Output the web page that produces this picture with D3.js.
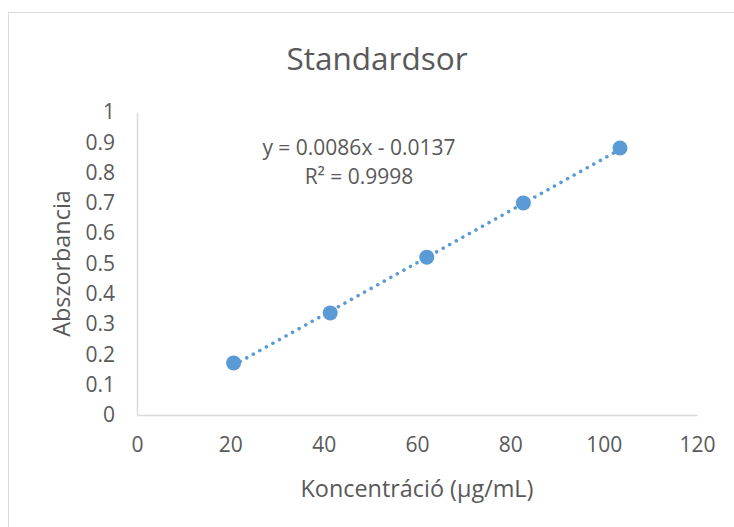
<!DOCTYPE html>
<html>
<head>
<meta charset="utf-8">
<script src="https://cdn.jsdelivr.net/npm/d3@7"></script>
<style>
  body { margin: 0; background: #fff; }
  text { font-family: "Open Sans", sans-serif; fill: #595959; }
</style>
</head>
<body>
<script>
// data
var concentrations = [20.7, 41.4, 62.1, 82.8, 103.5];
var absorbances = [0.172, 0.337, 0.521, 0.700, 0.881];
var xTicks = [0, 20, 40, 60, 80, 100, 120];
var yTicks = [0, 0.1, 0.2, 0.3, 0.4, 0.5, 0.6, 0.7, 0.8, 0.9, 1];
var slope = 0.0086, intercept = -0.0137;
var equationLines = ["y = 0.0086x - 0.0137", "R² = 0.9998"];

var W = 734, H = 527;
var plotL = 137, plotR = 697, plotT = 112, plotB = 415;
var blue = "#5B9BD5";

var svg = d3.select("body").append("svg")
    .attr("width", W)
    .attr("height", H);

// chart border
svg.append("rect")
    .attr("x", 8.5).attr("y", 12.5)
    .attr("width", W).attr("height", H)
    .attr("fill", "#fff")
    .attr("stroke", "#D9D9D9");

var x = d3.scaleLinear().domain([0, 120]).range([plotL, plotR]);
var y = d3.scaleLinear().domain([0, 1]).range([plotB, plotT]);

var xAxis = svg.append("g")
    .attr("transform", "translate(0," + plotB + ")")
    .call(d3.axisBottom(x).tickValues(xTicks).tickSize(0).tickPadding(22));
var yAxis = svg.append("g")
    .attr("transform", "translate(" + plotL + ",0)")
    .call(d3.axisLeft(y).tickValues(yTicks).tickSize(0).tickPadding(22)
        .tickFormat(d => d3.format("~g")(d)));

[xAxis, yAxis].forEach(function(g) {
    g.select(".domain").attr("stroke", "#D9D9D9").attr("stroke-width", 1.5);
    g.selectAll("text")
        .attr("font-family", "Open Sans")
        .attr("font-size", 21)
        .attr("fill", "#595959");
});

// trendline from first to last point
var x0 = d3.min(concentrations), x1 = d3.max(concentrations);
svg.append("line")
    .attr("x1", x(x0)).attr("y1", y(slope * x0 + intercept))
    .attr("x2", x(x1)).attr("y2", y(slope * x1 + intercept))
    .attr("stroke", blue)
    .attr("stroke-width", 3.5)
    .attr("stroke-linecap", "round")
    .attr("stroke-dasharray", "0.1,7.4");

// markers
svg.append("g")
    .selectAll("circle")
    .data(concentrations)
    .join("circle")
    .attr("cx", d => x(d))
    .attr("cy", (d, i) => y(absorbances[i]))
    .attr("r", 7.5)
    .attr("fill", blue);

// title
svg.append("text")
    .attr("x", 377).attr("y", 70)
    .attr("text-anchor", "middle")
    .attr("font-size", 31.5)
    .text("Standardsor");

// equation label
svg.append("g")
    .selectAll("text")
    .data(equationLines)
    .join("text")
    .attr("x", 359)
    .attr("y", (d, i) => 155 + i * 29)
    .attr("text-anchor", "middle")
    .attr("font-size", 21)
    .text(d => d);

// axis titles
svg.append("text")
    .attr("x", 417).attr("y", 497)
    .attr("text-anchor", "middle")
    .attr("font-size", 23.4)
    .text("Koncentráció (µg/mL)");

svg.append("text")
    .attr("transform", "translate(70," + ((plotT + plotB) / 2) + ") rotate(-90)")
    .attr("text-anchor", "middle")
    .attr("font-size", 23.4)
    .text("Abszorbancia");
</script>
</body>
</html>
